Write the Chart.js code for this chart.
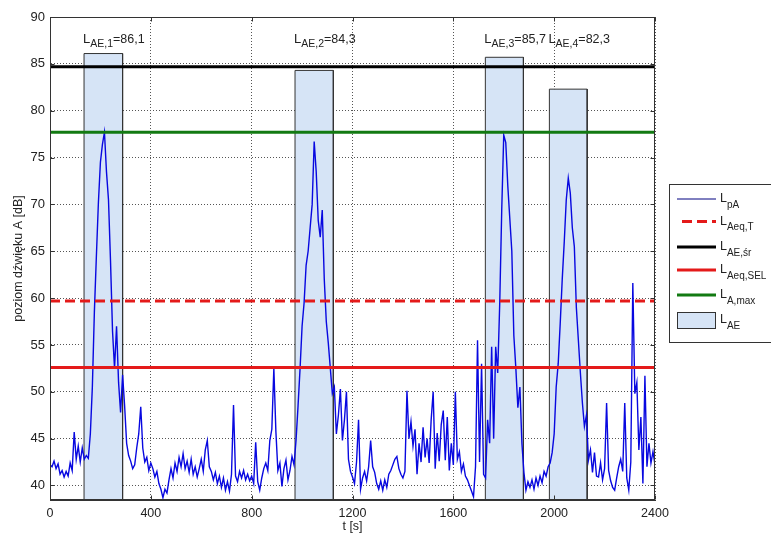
<!DOCTYPE html>
<html>
<head>
<meta charset="utf-8">
<script src="https://cdn.jsdelivr.net/npm/chart.js@4.4.0/dist/chart.umd.min.js"></script>
<style>
  html, body { margin: 0; padding: 0; background: #fff; }
  #wrap { position: relative; width: 771px; height: 534px; }
</style>
</head>
<body>
<div id="wrap"><canvas id="noiseChart" width="771" height="534"></canvas></div>
<script>
// sound level samples, one every 8 s
const sampleStep = 8;
const lpA = [
  42.2, 42.0, 42.6, 41.8, 42.3, 41.2, 41.6, 40.9, 41.5, 41.0,
  42.4, 41.6, 45.7, 42.8, 44.2, 42.5, 44.0, 42.8, 43.2, 42.9,
  45.5, 50.5, 58.5, 64.5, 70.2, 74.5, 76.4, 77.7, 73.5, 70.5,
  64.0, 56.5, 52.5, 57.0, 51.0, 47.8, 51.8, 48.5, 44.5, 43.2,
  42.6, 41.8, 42.2, 44.0, 45.5, 48.4, 44.0, 42.5, 43.0, 41.6,
  42.4, 41.8, 40.9, 41.5, 40.2, 39.6, 38.7, 39.6, 39.2, 40.6,
  41.8, 40.8, 42.4, 41.5, 43.0, 42.0, 43.4, 41.8, 42.6, 41.4,
  42.8, 41.2, 42.0, 40.9, 41.8, 42.8, 41.5, 43.8, 44.8, 42.0,
  41.5, 40.6, 41.4, 40.2, 41.0, 39.8, 40.8, 39.5, 40.4, 39.4,
  41.2, 48.6, 41.0, 40.4, 41.5, 40.8, 41.6, 40.6, 41.2, 40.5,
  41.0, 40.2, 44.6, 40.4, 39.5, 40.8, 41.8, 42.4, 41.6, 44.8,
  46.0, 52.5, 45.8, 41.6, 42.4, 39.9, 41.8, 42.7, 40.6, 41.6,
  43.1, 42.2, 44.8, 48.5, 52.5, 57.0, 59.5, 63.5, 65.0, 67.5,
  70.0, 76.7, 73.5, 68.3, 66.5, 69.4, 62.0, 57.5, 55.2, 52.5,
  49.8, 50.5, 45.5, 47.5, 50.3, 44.8, 47.0, 50.0, 42.8, 41.5,
  40.9, 40.2, 42.5, 47.0, 39.6, 40.8, 41.5, 40.5, 42.0, 44.8,
  42.0, 41.4, 40.2, 39.6, 40.5, 39.5, 40.6, 39.8, 41.2, 41.6,
  42.2, 42.8, 43.1, 41.8, 41.2, 40.8, 41.5, 50.1, 45.0, 46.8,
  44.2, 46.0, 41.2, 44.5, 42.5, 46.2, 43.0, 45.0, 42.4, 47.0,
  50.0, 41.8, 45.6, 42.6, 46.5, 48.0, 42.7, 47.3, 41.6, 44.5,
  42.2, 50.0, 42.8, 43.6, 41.5, 42.3, 41.0, 40.6, 40.0, 39.4,
  38.8, 42.0, 55.5, 42.5, 53.0, 41.2, 40.8, 47.0, 44.5, 54.8,
  45.0, 54.8, 52.0, 59.4, 69.4, 77.4, 76.6, 72.0, 68.5, 65.0,
  56.0, 52.5, 48.3, 50.5, 44.5, 41.4, 39.5, 40.4, 39.8, 40.6,
  39.6, 40.8, 40.0, 41.0, 40.3, 41.5, 41.0, 42.0, 42.4, 43.5,
  45.5, 50.5, 53.0, 57.3, 62.0, 66.0, 70.5, 72.8, 71.2, 67.5,
  65.5, 59.0, 55.5, 52.0, 48.8, 46.3, 47.5, 42.7, 43.8, 41.4,
  43.5, 41.0, 40.9, 42.4, 40.6, 41.8, 48.8, 41.6, 40.5, 39.8,
  39.5, 40.8, 42.0, 42.8, 41.5, 48.8, 40.8, 39.5, 42.5, 61.6,
  49.8, 51.0, 43.8, 47.3, 40.2, 51.7, 42.0, 44.5, 42.4, 43.6,
  42.2
];

// L_AE events: start / end [s] and level [dB]
const laeStart = [135, 972, 1727, 1981];
const laeEnd = [288, 1124, 1878, 2131];
const laeValues = [86.1, 84.3, 85.7, 82.3];

const levelAeqT = 59.7;
const levelAEsr = 84.7;
const levelAeqSEL = 52.6;
const levelAmax = 77.7;

const xTicks = [0, 400, 800, 1200, 1600, 2000, 2400];
const yTicks = [40, 45, 50, 55, 60, 65, 70, 75, 80, 85, 90];

const xMin = 0, xMax = 2400, yMin = 38.45, yMax = 90;
const FONT = "'Liberation Sans', Arial, sans-serif";
const TEXT = '#222';
const BLUE = '#0808e0';
const RED = '#e41a1a';
const GREEN = '#127a12';
const BAR_FILL = '#d6e4f6';
const BAR_EDGE = '#333';

function hLine(value, color, dash) {
  return {
    data: [{ x: xMin, y: value }, { x: xMax, y: value }],
    borderColor: color,
    borderWidth: 3,
    borderDash: dash || [],
    pointRadius: 0,
    fill: false,
    order: 0
  };
}

function drawSub(ctx, x, y, parts) {
  // parts: [text, size, dy]
  let cx = x;
  parts.forEach(p => {
    ctx.font = p[1] + 'px ' + FONT;
    ctx.fillText(p[0], cx, y + p[2]);
    cx += ctx.measureText(p[0]).width;
  });
}

const framePlugin = {
  id: 'frame',
  afterDraw(chart) {
    const { ctx, chartArea: a, scales: { x, y } } = chart;
    const L = Math.round(a.left) + 0.5, R = Math.round(a.right) - 0.5;
    const T = Math.round(a.top) + 0.5, B = Math.round(a.bottom) - 0.5;
    ctx.save();
    ctx.strokeStyle = '#333';
    ctx.lineWidth = 1;
    ctx.setLineDash([]);
    ctx.strokeRect(L, T, R - L, B - T);
    // inner ticks
    ctx.beginPath();
    yTicks.forEach(v => {
      const py = Math.round(y.getPixelForValue(v)) + 0.5;
      ctx.moveTo(L, py); ctx.lineTo(L + 4, py);
      ctx.moveTo(R, py); ctx.lineTo(R - 4, py);
    });
    xTicks.forEach(v => {
      const px = Math.round(x.getPixelForValue(v)) + 0.5;
      ctx.moveTo(px, B); ctx.lineTo(px, B - 4);
      ctx.moveTo(px, T); ctx.lineTo(px, T + 4);
    });
    ctx.stroke();

    // L_AE labels above the bars
    ctx.fillStyle = TEXT;
    ctx.textBaseline = 'alphabetic';
    laeValues.forEach((v, i) => {
      const px = x.getPixelForValue(laeStart[i]) - 1;
      const py = y.getPixelForValue(87.25);
      drawSub(ctx, px, py, [
        ['L', 13, 0],
        ['AE,' + (i + 1), 10.5, 4.5],
        ['=' + v.toFixed(1).replace('.', ','), 12.5, 0]
      ]);
    });

    // legend box
    const lx = 669.5, ly = 184.5;
    ctx.fillStyle = '#fff';
    ctx.fillRect(lx, ly, 110, 158);
    ctx.strokeStyle = '#333';
    ctx.lineWidth = 1;
    ctx.strokeRect(lx, ly, 110, 158);
    const items = [
      { y: 199, color: '#000080', width: 1, dash: [], sub: 'pA' },
      { y: 221.5, color: RED, width: 3, dash: [10, 5], sub: 'Aeq,T', x0: 682 },
      { y: 247, color: '#000', width: 3, dash: [], sub: 'AE,śr' },
      { y: 270, color: RED, width: 3, dash: [], sub: 'Aeq,SEL' },
      { y: 295, color: GREEN, width: 3, dash: [], sub: 'A,max' }
    ];
    items.forEach(it => {
      ctx.beginPath();
      ctx.strokeStyle = it.color;
      ctx.lineWidth = it.width;
      ctx.setLineDash(it.dash);
      ctx.moveTo(it.x0 || 677, it.y);
      ctx.lineTo(716, it.y);
      ctx.stroke();
      ctx.setLineDash([]);
      ctx.fillStyle = TEXT;
      drawSub(ctx, 720, it.y + 3, [['L', 12.5, 0], [it.sub, 10, 5.5]]);
    });
    ctx.lineWidth = 1;
    ctx.fillStyle = BAR_FILL;
    ctx.fillRect(677.5, 312.5, 38, 16);
    ctx.strokeStyle = BAR_EDGE;
    ctx.strokeRect(677.5, 312.5, 38, 16);
    ctx.fillStyle = TEXT;
    drawSub(ctx, 720, 323, [['L', 12.5, 0], ['AE', 10, 5.5]]);
    ctx.restore();
  }
};

const barSets = laeValues.map((v, i) => ({
  data: [
    { x: laeStart[i], y: yMin },
    { x: laeStart[i], y: v },
    { x: laeEnd[i], y: v },
    { x: laeEnd[i], y: yMin }
  ],
  borderColor: BAR_EDGE,
  borderWidth: 1,
  backgroundColor: BAR_FILL,
  fill: 'start',
  pointRadius: 0,
  order: 5
}));

const ctx = document.getElementById('noiseChart');
new Chart(ctx, {
  type: 'line',
  data: {
    datasets: [
      hLine(levelAeqT, RED, [10, 5]),
      hLine(levelAEsr, '#000'),
      hLine(levelAeqSEL, RED),
      hLine(levelAmax, GREEN),
      {
        data: lpA.map((v, i) => ({ x: i * sampleStep, y: v })),
        borderColor: BLUE,
        borderWidth: 1.4,
        pointRadius: 0,
        fill: false,
        order: 1
      },
      ...barSets
    ]
  },
  options: {
    responsive: false,
    animation: false,
    devicePixelRatio: 1,
    layout: { padding: { top: 17, right: 116, left: 0, bottom: 0 } },
    plugins: { legend: { display: false }, tooltip: { enabled: false } },
    elements: { line: { tension: 0 } },
    scales: {
      x: {
        type: 'linear',
        min: xMin,
        max: xMax,
        afterFit: s => { s.height = 34; },
        afterBuildTicks: s => { s.ticks = xTicks.map(v => ({ value: v })); },
        ticks: {
          color: TEXT, font: { family: FONT, size: 12.5 }, padding: 6, maxRotation: 0,
          callback: v => String(v)
        },
        grid: { color: '#555', lineWidth: 1, drawTicks: false },
        border: { display: true, color: '#333', dash: [1, 2] },
        title: { display: true, text: 't [s]', color: TEXT, font: { family: FONT, size: 12.5 }, padding: { top: 0, bottom: 0 } }
      },
      y: {
        type: 'linear',
        min: yMin,
        max: yMax,
        afterFit: s => { s.width = 50; },
        afterBuildTicks: s => { s.ticks = yTicks.map(v => ({ value: v })); },
        ticks: { color: TEXT, font: { family: FONT, size: 13 }, padding: 5, callback: v => String(v) },
        grid: { color: '#555', lineWidth: 1, drawTicks: false },
        border: { display: true, color: '#333', dash: [1, 2] },
        title: { display: true, text: 'poziom dźwięku A [dB]', color: TEXT, font: { family: FONT, size: 12.5 }, padding: { top: 11, bottom: 0 } }
      }
    }
  },
  plugins: [framePlugin]
});
</script>
</body>
</html>
